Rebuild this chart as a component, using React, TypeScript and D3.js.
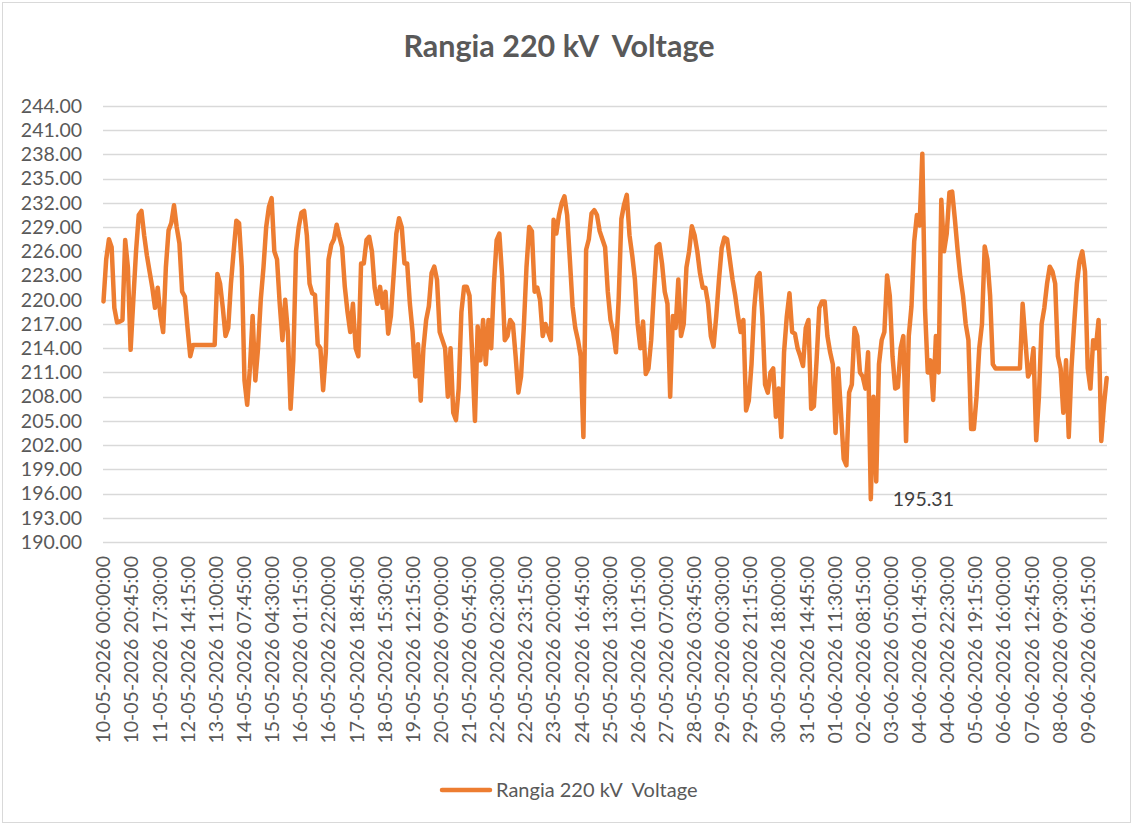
import React from 'react';
import * as d3 from 'd3';

// Rangia 220 kV bus voltage, read every 2 hours from 10-05-2026 00:00 (15 min categories)
const voltage = [
  219.8, 225, 227.5, 226.5, 219, 217.2, 217.3, 217.5, 227.4, 224, 213.8, 220,
  226, 230.5, 231, 228, 225.5, 223.5, 221.5, 219, 221.5, 218, 216, 224,
  228.6, 229.5, 231.7, 229, 227, 221, 220.4, 216.5, 213, 214.4, 214.4, 214.4,
  214.4, 214.4, 214.4, 214.4, 214.4, 214.4, 223.2, 222, 219, 215.5, 216.5, 222,
  226, 229.8, 229.5, 224, 210, 207, 211.5, 218, 210, 214, 220, 224,
  229, 231.5, 232.6, 226, 225, 219.5, 215, 220, 216, 206.5, 212.5, 226,
  229, 230.8, 231, 228, 222, 220.8, 220.6, 214.5, 214, 208.8, 213.5, 225,
  226.8, 227.5, 229.3, 227.8, 226.5, 221.6, 218.5, 216, 219.5, 214, 213, 224.5,
  224.5, 227.4, 227.8, 226, 221.5, 219.5, 221.6, 219, 221, 215.8, 218, 223,
  228.2, 230.1, 229, 224.5, 224.5, 219.5, 216, 210.5, 214.5, 207.5, 214, 217.5,
  219.2, 223.3, 224.1, 222.5, 216, 215, 214, 208, 214, 206, 205.1, 209,
  218.5, 221.6, 221.6, 220.5, 213, 205, 216.7, 212.5, 217.5, 212, 217.5, 214,
  222, 227.4, 228.2, 223, 215, 215.5, 217.5, 217, 213, 208.5, 210.5, 216.5,
  224, 229, 228.5, 221, 221.5, 220, 215.5, 217, 216, 215, 229.9, 228.2,
  230.5, 232, 232.8, 230.5, 225, 219.2, 216.5, 215, 213, 203, 226.2, 227.5,
  230.7, 231.1, 230.5, 228.5, 227.5, 226.5, 221, 217.5, 216, 213.5, 220, 230,
  231.8, 233, 228, 225.5, 222.5, 217, 214, 217.3, 210.8, 211.5, 215, 221,
  226.6, 226.9, 224.5, 221, 219.5, 208, 218, 216.5, 222.5, 215.5, 217, 224,
  226, 229.1, 228, 226, 223.3, 221.5, 221.5, 219.5, 215.5, 214.2, 218, 222.5,
  226.4, 227.7, 227.5, 225, 222.5, 220.5, 218, 216, 217.5, 206.3, 207.5, 212,
  219, 222.8, 223.3, 218, 209.5, 208.5, 211, 211.5, 205.5, 209, 203, 213.5,
  217.9, 220.8, 216, 215.8, 214, 213, 211.8, 216.5, 217.5, 206.5, 206.8, 212.5,
  219, 219.8, 219.8, 215.5, 213.5, 212, 203.5, 211.5, 206, 200.3, 199.5, 208.5,
  209.5, 216.5, 215.5, 211, 210.5, 209, 213.5, 195.31, 208, 197.5, 212, 215,
  216, 223, 220.5, 213, 209, 209.2, 214, 215.5, 202.5, 215.5, 219.2, 227.2,
  230.5, 229.2, 238.1, 218.8, 211, 212.5, 207.6, 215.5, 211, 232.4, 226, 228.2,
  233.3, 233.4, 230, 226.2, 222.9, 220.5, 217, 215, 204, 204, 208, 214,
  217, 226.6, 225, 220.5, 212, 211.5, 211.5, 211.5, 211.5, 211.5, 211.5, 211.5,
  211.5, 211.5, 211.5, 219.5, 215, 210.5, 211.2, 214, 202.6, 208, 217, 219,
  222, 224.1, 223.5, 222, 213, 211.5, 206, 212.5, 203, 211.5, 217, 222,
  224.8, 226, 223.5, 211.5, 209, 215, 214, 217.5, 202.5, 207, 210.3,
];

const categoriesPerSample = 8; // 2 h of 15 min categories
const tickEvery = 83;

const tickLabels = [
  '10-05-2026 00:00:00', '10-05-2026 20:45:00', '11-05-2026 17:30:00', '12-05-2026 14:15:00',
  '13-05-2026 11:00:00', '14-05-2026 07:45:00', '15-05-2026 04:30:00', '16-05-2026 01:15:00',
  '16-05-2026 22:00:00', '17-05-2026 18:45:00', '18-05-2026 15:30:00', '19-05-2026 12:15:00',
  '20-05-2026 09:00:00', '21-05-2026 05:45:00', '22-05-2026 02:30:00', '22-05-2026 23:15:00',
  '23-05-2026 20:00:00', '24-05-2026 16:45:00', '25-05-2026 13:30:00', '26-05-2026 10:15:00',
  '27-05-2026 07:00:00', '28-05-2026 03:45:00', '29-05-2026 00:30:00', '29-05-2026 21:15:00',
  '30-05-2026 18:00:00', '31-05-2026 14:45:00', '01-06-2026 11:30:00', '02-06-2026 08:15:00',
  '03-06-2026 05:00:00', '04-06-2026 01:45:00', '04-06-2026 22:30:00', '05-06-2026 19:15:00',
  '06-06-2026 16:00:00', '07-06-2026 12:45:00', '08-06-2026 09:30:00', '09-06-2026 06:15:00',
];

const yTicks = d3.range(190, 244.1, 3);
const seriesName = 'Rangia 220 kV  Voltage';

const FONT = 'Lato, Carlito, Calibri, sans-serif';
const TEXT = '#595959';
const ORANGE = '#ED7D31';

export default function App() {
  const width = 1133;
  const height = 825;
  const lastCat = (voltage.length - 1) * categoriesPerSample;

  const x = d3.scaleLinear().domain([0, lastCat]).range([103.5, 1106.7]);
  const y = d3.scaleLinear().domain([190, 244]).range([542, 106]);

  const line = d3
    .line<number>()
    .x((_, i) => x(i * categoriesPerSample))
    .y((d) => y(d));

  const minVal = d3.min(voltage) as number;
  const minIdx = voltage.indexOf(minVal);

  return (
    <svg
      width={width}
      height={height}
      style={{ position: 'absolute', left: 0, top: 0, background: '#fff' }}
      fontFamily={FONT}
    >
      <rect x={2.5} y={2.5} width={width - 5} height={height - 5} fill="#fff" stroke="#d9d9d9" />

      <text x={559} y={57} textAnchor="middle" fontSize={30.5} fontWeight="bold" fill={TEXT} style={{ whiteSpace: 'pre' }}>
        {seriesName}
      </text>

      {/* gridlines + y labels */}
      {yTicks.map((t) => (
        <g key={t}>
          <line x1={103} x2={1107} y1={Math.round(y(t)) + 0.5} y2={Math.round(y(t)) + 0.5} stroke="#d9d9d9" strokeWidth={1.3} />
          <text x={82} y={y(t)} dy="0.35em" textAnchor="end" fontSize={19.5} fill={TEXT}>
            {t.toFixed(2)}
          </text>
        </g>
      ))}

      {/* x labels */}
      {tickLabels.map((lab, k) => (
        <text
          key={lab}
          transform={`translate(${x(k * tickEvery)},556) rotate(-90)`}
          dy="0.35em"
          textAnchor="end"
          fontSize={19.5}
          fill={TEXT}
        >
          {lab}
        </text>
      ))}

      <path
        d={line(voltage) || ''}
        fill="none"
        stroke={ORANGE}
        strokeWidth={4.5}
        strokeLinejoin="round"
        strokeLinecap="round"
      />

      <text
        x={x(minIdx * categoriesPerSample) + 22}
        y={y(minVal)}
        dy="0.35em"
        fontSize={19.5}
        fill="#404040"
      >
        {minVal.toFixed(2)}
      </text>

      {/* legend */}
      <line x1={442} x2={490} y1={790} y2={790} stroke={ORANGE} strokeWidth={4.5} strokeLinecap="round" />
      <text x={496} y={790} dy="0.35em" fontSize={20} fill={TEXT} style={{ whiteSpace: 'pre' }}>
        {seriesName}
      </text>
    </svg>
  );
}
